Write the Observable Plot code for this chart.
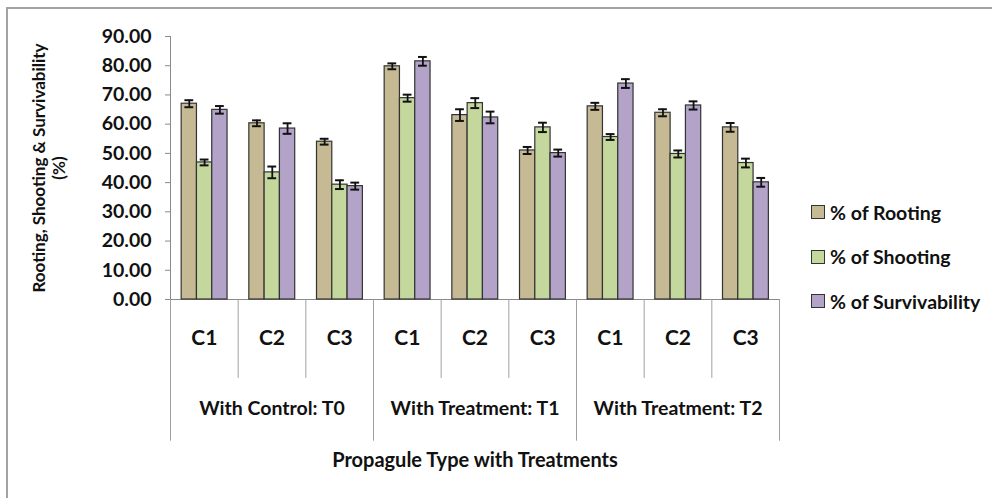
<!DOCTYPE html>
<html><head><meta charset="utf-8">
<script src="https://cdn.jsdelivr.net/npm/d3@7"></script>
<script src="https://cdn.jsdelivr.net/npm/@observablehq/plot@0.6"></script>
<style>
body{margin:0;background:#fff;font-family:Lato,"Open Sans",sans-serif;}
#wrap{position:relative;width:992px;height:498px;overflow:hidden;background:#fff;}
#border{position:absolute;left:6px;top:7px;width:1000px;height:500px;border-left:2px solid #a3a3a3;border-top:2px solid #a3a3a3;pointer-events:none;}
#chart{position:absolute;left:0;top:0;}
#legend{position:absolute;left:811px;top:190px;font-family:Lato,sans-serif;font-weight:bold;font-size:19.5px;color:#111;}
#legend .row{display:flex;align-items:center;height:44.5px;}
#legend .sw{width:12px;height:12px;border:1px solid #333;margin-right:5px;}
</style>
</head><body>
<div id="wrap"><div id="chart"></div><div id="legend"></div><div id="border"></div></div>
<script>
const groups = ["With Control: T0", "With Treatment: T1", "With Treatment: T2"];
const propagules = ["C1", "C2", "C3"];
const series = ["% of Rooting", "% of Shooting", "% of Survivability"];
const colors = ["#C5BA93", "#C4D89D", "#B3A3C9"];
const rooting       = [67.0, 60.3, 54.0, 79.8, 63.1, 51.0, 66.1, 63.9, 58.9];
const shooting      = [46.9, 43.5, 39.3, 68.9, 67.2, 58.9, 55.6, 49.8, 46.7];
const survivability = [64.9, 58.5, 38.8, 81.5, 62.3, 50.1, 73.9, 66.4, 40.1];
const rootingErr       = [1.2, 1.0, 1.0, 1.0, 2.0, 1.2, 1.2, 1.2, 1.5];
const shootingErr      = [1.0, 2.0, 1.5, 1.2, 1.7, 1.6, 1.0, 1.2, 1.5];
const survivabilityErr = [1.3, 1.8, 1.2, 1.5, 2.0, 1.2, 1.5, 1.4, 1.5];
const yTicks = [0, 10, 20, 30, 40, 50, 60, 70, 80, 90];

const values = [rooting, shooting, survivability];
const errs = [rootingErr, shootingErr, survivabilityErr];
const slots = [];
groups.forEach((g, gi) => propagules.forEach((p, pi) => slots.push({g, p, i: gi * 3 + pi})));
const off = 0.165, bw = 0.226, cap = 0.065;
const rows = [];
slots.forEach(sl => series.forEach((s, si) => {
  const v = values[si][sl.i], e = errs[si][sl.i];
  const x1 = sl.i + off + si * bw;
  rows.push({s, v, e, x1, x2: x1 + bw, xc: x1 + bw / 2});
}));

const chart = Plot.plot({
  width: 992, height: 498,
  marginLeft: 170, marginRight: 213, marginTop: 36, marginBottom: 199,
  style: {fontFamily: "Lato, sans-serif", fontSize: "19.5px", fontWeight: "bold", color: "#111", background: "transparent"},
  x: {domain: [0, 9], axis: null},
  y: {domain: [0, 90], axis: null},
  color: {domain: series, range: colors},
  marks: [
    Plot.axisY({ticks: yTicks, tickFormat: d3.format(".2f"), tickSize: 5, tickPadding: 14, stroke: "#8a8a8a", fill: "#111", label: null, fontSize: 19.5}),
    Plot.ruleX([0], {y1: 0, y2: 90, stroke: "#8a8a8a"}),
    Plot.ruleY([0], {x1: -0.07, x2: 9, stroke: "#8a8a8a"}),
    Plot.ruleX([1, 2, 4, 5, 7, 8], {y1: 0, y2: -27, stroke: "#a0a0a0"}),
    Plot.ruleX([0, 3, 6, 9], {y1: 0, y2: -48.5, stroke: "#a0a0a0"}),
    Plot.rectY(rows, {x1: "x1", x2: "x2", y: "v", fill: "s", stroke: "#333", strokeWidth: 1.2}),
    Plot.ruleX(rows, {x: "xc", y1: d => d.v - d.e, y2: d => d.v + d.e, stroke: "#111", strokeWidth: 1.8}),
    Plot.ruleY(rows, {y: d => d.v + d.e, x1: d => d.xc - cap, x2: d => d.xc + cap, stroke: "#111", strokeWidth: 2}),
    Plot.ruleY(rows, {y: d => d.v - d.e, x1: d => d.xc - cap, x2: d => d.xc + cap, stroke: "#111", strokeWidth: 2}),
    Plot.text(slots, {x: d => d.i + 0.5, y: 0, text: "p", dy: 39, fontSize: 21, fill: "#111"}),
    Plot.text(groups, {x: (d, i) => i * 3 + 1.5, y: 0, text: d => d, dy: 109, fontSize: 19.5, fill: "#111"}),
    Plot.text(["Propagule Type with Treatments"], {x: 4.5, y: 0, text: d => d, dy: 161, fontSize: 20, fill: "#111"}),
    Plot.text(["Rooting, Shooting & Survivability\n(%)"], {frameAnchor: "left", textAnchor: "middle", lineAnchor: "middle", text: d => d, rotate: -90, dx: -122, fontSize: 17, fill: "#111", lineHeight: 1.2})
  ]
});
document.getElementById("chart").appendChild(chart);

const legend = document.getElementById("legend");
series.forEach((s, i) => {
  const r = document.createElement("div"); r.className = "row";
  const sw = document.createElement("div"); sw.className = "sw"; sw.style.background = colors[i];
  const t = document.createElement("span"); t.textContent = s;
  r.appendChild(sw); r.appendChild(t); legend.appendChild(r);
});
</script>
</body></html>
